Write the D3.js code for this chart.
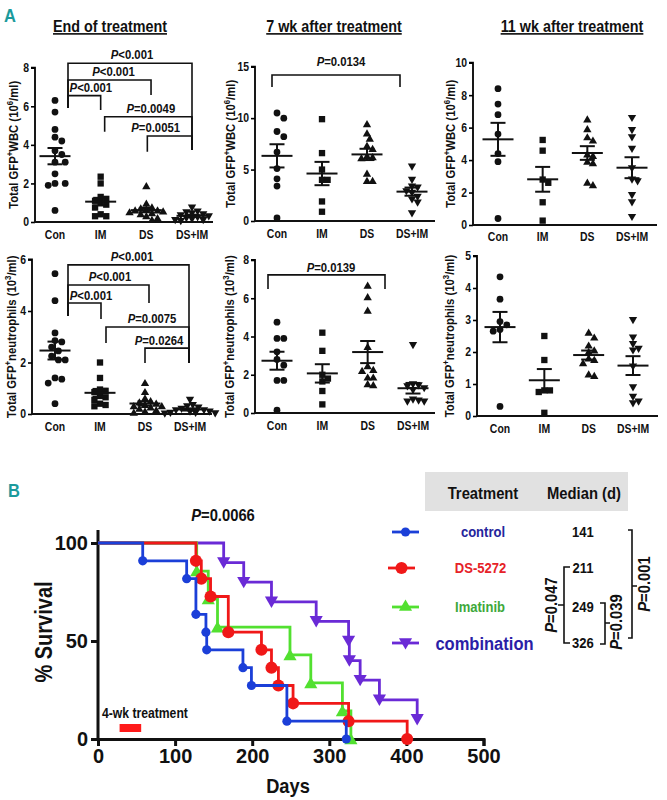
<!DOCTYPE html>
<html><head><meta charset="utf-8">
<script src="https://cdn.jsdelivr.net/npm/d3@7"></script>
<style>
body{margin:0;background:#fff}
text{font-family:'Liberation Sans',Arial,sans-serif;font-weight:bold;fill:#111}
</style></head><body>
<svg id="chart" width="667" height="800"></svg>
<script>
// ---------------- DATA ----------------
const categories = ["Con", "IM", "DS", "DS+IM"];
const titles = ["End of treatment", "7 wk after treatment", "11 wk after treatment"];

// Total GFP+ WBC (10^6/ml); each inner array = Con, IM, DS, DS+IM
const wbcEnd = [
  [6.3, 5.7, 4.8, 4.4, 4.2, 3.7, 3.5, 3.1, 3.1, 2.5, 2.0, 2.0, 1.9, 0.6],
  [2.35, 2.0, 1.3, 1.2, 1.1, 1.0, 0.9, 0.75, 0.4, 0.3, 0.3],
  [1.85, 0.95, 0.75, 0.7, 0.65, 0.6, 0.6, 0.55, 0.5, 0.45, 0.4, 0.3, 0.2, 0.1],
  [0.75, 0.55, 0.5, 0.45, 0.4, 0.35, 0.3, 0.25, 0.2, 0.15, 0.1, 0.1, 0.05]
];
const wbc7wk = [
  [10.5, 10.0, 8.7, 8.2, 6.7, 5.1, 4.1, 3.4, 0.3],
  [9.9, 6.6, 5.0, 4.0, 4.0, 1.9, 0.9],
  [9.4, 8.5, 8.0, 7.3, 7.0, 6.3, 6.2, 6.1, 4.6, 3.9, 3.9],
  [5.3, 4.0, 3.35, 3.25, 2.9, 2.75, 2.35, 2.1, 1.8, 0.75]
];
const wbc11wk = [
  [8.4, 7.45, 6.8, 5.6, 4.4, 3.9, 0.4],
  [5.24, 4.58, 2.8, 2.6, 1.4, 0.27],
  [6.5, 5.9, 5.4, 5.2, 4.35, 4.25, 3.9, 3.8, 2.6, 2.45],
  [6.6, 5.85, 5.4, 4.7, 3.5, 2.8, 2.7, 1.85, 1.4, 0.5]
];
// Total GFP+ neutrophils (10^3/ml)
const neuEnd = [
  [5.45, 4.4, 3.15, 2.85, 2.8, 2.6, 2.45, 2.25, 2.1, 2.1, 1.4, 1.35, 1.2, 0.4],
  [2.0, 1.4, 0.95, 0.9, 0.85, 0.7, 0.65, 0.55, 0.4, 0.35, 0.3],
  [1.2, 0.85, 0.6, 0.5, 0.45, 0.4, 0.35, 0.3, 0.3, 0.25, 0.2, 0.15, 0.1, 0.05],
  [0.55, 0.35, 0.3, 0.25, 0.2, 0.15, 0.15, 0.1, 0.1, 0.05, 0.05, 0.03, 0.02]
];
const neu7wk = [
  [4.75, 3.9, 3.9, 3.2, 2.8, 2.5, 1.7, 1.7, 0.15],
  [4.2, 3.25, 2.0, 1.8, 1.65, 1.15, 0.45],
  [6.65, 6.05, 5.35, 3.45, 2.45, 2.25, 2.2, 1.85, 1.85, 1.5, 1.45],
  [3.55, 1.5, 1.45, 1.4, 1.3, 1.2, 0.7, 0.65, 0.6, 0.6]
];
const neu11wk = [
  [4.35, 3.65, 2.95, 2.85, 2.7, 2.65, 0.3],
  [2.5, 1.75, 0.8, 0.8, 0.75, 0.1],
  [2.6, 2.45, 2.2, 2.05, 2.0, 1.8, 1.75, 1.65, 1.3, 1.25],
  [3.0, 2.45, 2.25, 2.1, 2.05, 1.55, 0.9, 0.6, 0.45, 0.4]
];

const yTicksWbcEnd = [0, 2, 4, 6, 8];
const yTicksWbc7 = [0, 5, 10, 15];
const yTicksWbc11 = [0, 2, 4, 6, 8, 10];
const yTicksNeuEnd = [0, 2, 4, 6];
const yTicksNeu7 = [0, 2, 4, 6, 8];
const yTicksNeu11 = [0, 1, 2, 3, 4, 5];

const pWbcEnd = ["<0.001", "<0.001", "<0.001", "=0.0049", "=0.0051"];
const pWbc7 = ["=0.0134"];
const pNeuEnd = ["<0.001", "<0.001", "<0.001", "=0.0075", "=0.0264"];
const pNeu7 = ["=0.0139"];

// Survival (Kaplan-Meier steps): event day and % survival after event
const survNames = ["control", "DS-5272", "Imatinib", "combination"];
const ctrlDays = [58, 115, 127, 140, 141, 188, 199, 245, 322];
const ctrlSurv = [90.9, 81.8, 63.6, 54.5, 45.5, 36.4, 27.3, 9.1, 0];
const dsDays = [127, 134, 146, 169, 212, 225, 234, 253, 325, 401];
const dsSurv = [90.9, 81.8, 72.7, 54.5, 45.5, 36.4, 27.3, 18.2, 9.1, 0];
const imDays = [128, 143, 155, 249, 276, 317, 328];
const imSurv = [85.7, 71.4, 57.1, 42.9, 28.6, 14.3, 0];
const comboDays = [163, 189, 225, 283, 325, 326, 340, 365, 414];
const comboSurv = [90, 80, 70, 60, 50, 40, 30, 20, 10];
const medians = [141, 211, 249, 326];
const survXTicks = [0, 100, 200, 300, 400, 500];
const survYTicks = [0, 50, 100];
const treatWindow = [28, 56];
const pSurv = "=0.0066";
const pMedianPairs = ["=0.047", "=0.039", "=0.001"];

// ---------------- LAYOUT ----------------
const svg = d3.select("#chart");
const symShapes = [d3.symbolCircle, d3.symbolSquare, d3.symbolTriangle, d3.symbolTriangle];
const symSizes = [36, 40, 30, 30];
const symRot = [0, 0, 0, 180];

const panels = [
  {data: wbcEnd, ticks: yTicksWbcEnd, ylab: "wbc", ax: 35, xr: [55, 192], xend: 213, yr: [222, 67.7], labX: 13, catY: 235, title: 0, titleX: 110,
   pv: pWbcEnd, br: [
     {a:0,b:3,h:8.23,da:5.91,db:3.73,dxa:13,dxb:0,tdx:2},
     {a:0,b:2,h:7.36,da:5.91,db:6.58,dxa:13,dxb:4.7,tdx:4},
     {a:0,b:1,h:6.55,da:5.91,db:5.81,dxa:13,dxb:0,tdx:6.5},
     {a:1,b:3,h:5.46,da:4.68,db:3.73,dxa:4,dxb:0,tdx:2.5},
     {a:2,b:3,h:4.46,da:3.64,db:3.73,dxa:1,dxb:0,tdx:-14}]},
  {data: wbc7wk, ticks: yTicksWbc7, ylab: "wbc", ax: 255, xr: [277, 412], xend: 435, yr: [221, 66.7], labX: 230, catY: 234, title: 1, titleX: 334,
   pv: pWbc7, br: [{a:0,b:3,h:14.19,da:13.02,db:13.02,dxa:-5,dxb:-12,tdx:5,tdy:-9}]},
  {data: wbc11wk, ticks: yTicksWbc11, ylab: "wbc", ax: 473, xr: [498, 632], xend: 657, yr: [225, 62.7], labX: 450, catY: 237, title: 2, titleX: 572, pv: [], br: []},
  {data: neuEnd, ticks: yTicksNeuEnd, ylab: "neu", ax: 32, xr: [55, 190], xend: 212, yr: [414, 259.5], labX: 11, catY: 427,
   pv: pNeuEnd, br: [
     {a:0,b:3,h:5.79,da:3.81,db:1.98,dxa:13,dxb:-1,tdx:3.5,tdy:-3.5},
     {a:0,b:2,h:5.01,da:3.81,db:4.31,dxa:13,dxb:4,tdx:1.5,tdy:-3.5},
     {a:0,b:1,h:4.31,da:3.81,db:3.69,dxa:13,dxb:1,tdx:6.5,tdy:-3.5},
     {a:1,b:3,h:3.38,da:2.76,db:1.98,dxa:6,dxb:-1,tdx:4.5,tdy:-3.5},
     {a:2,b:3,h:2.56,da:1.98,db:1.98,dxa:0,dxb:-1,tdx:-8,tdy:-3.5}]},
  {data: neu7wk, ticks: yTicksNeu7, ylab: "neu", ax: 255, xr: [277, 413], xend: 435, yr: [413, 260], labX: 229, catY: 426,
   pv: pNeu7, br: [{a:0,b:3,h:7.22,da:6.48,db:6.48,dxa:-9,dxb:-28,tdx:4.5,tdy:-3.3}]},
  {data: neu11wk, ticks: yTicksNeu11, ylab: "neu", ax: 477, xr: [500, 633], xend: 658, yr: [416, 256], labX: 449, catY: 429, pv: [], br: []}
];

function pText(g, x, y, rest, size, anchor, rot) {
  const t = g.append("text").attr("x", x).attr("y", y).attr("font-size", size).attr("text-anchor", anchor || "middle");
  if (rot) t.attr("transform", `rotate(-90,${x},${y})`);
  t.append("tspan").attr("font-style", "italic").text("P");
  t.append("tspan").text(rest);
  return t;
}

function swarm(vals, y, cx, d) {
  const pts = vals.map(v => ({v, y: y(v)})).sort((a, b) => a.y - b.y);
  const placed = [];
  const cands = [0];
  for (let i = 1; i < 60; i++) { cands.push(i * d * 0.5, -i * d * 0.5); }
  pts.forEach(p => {
    for (const dx of cands) {
      if (placed.every(q => Math.hypot(q.x - (cx + dx), q.y - p.y) >= d)) { p.x = cx + dx; break; }
    }
    placed.push(p);
  });
  return pts;
}

// Panel letters
svg.append("text").attr("x", 4).attr("y", 22).attr("font-size", 19).style("fill", "#1b9a9c").text("A");
svg.append("text").attr("x", 8).attr("y", 497).attr("font-size", 19).style("fill", "#1b9a9c").text("B");

panels.forEach((P, pi) => {
  const g = svg.append("g");
  const y = d3.scaleLinear().domain([0, d3.max(P.ticks)]).range(P.yr);
  const x = d3.scalePoint().domain(categories).range(P.xr);
  const ya = g.append("g").attr("transform", `translate(${P.ax},0)`)
    .call(d3.axisLeft(y).tickValues(P.ticks).tickSize(4).tickPadding(2).tickFormat(d3.format("d")));
  ya.select(".domain").attr("stroke-width", 1.8).attr("d", `M0,${P.yr[0]}V${P.yr[1]}H-4`);
  ya.selectAll(".tick line").attr("stroke-width", 1.6);
  ya.selectAll(".tick text").attr("font-size", 12).style("font-family", null);
  g.append("line").attr("x1", P.ax - 1).attr("x2", P.xend).attr("y1", P.yr[0]).attr("y2", P.yr[0]).attr("stroke", "#111").attr("stroke-width", 1.8);
  categories.forEach(c => {
    g.append("text").attr("x", x(c)).attr("y", P.catY + 4.5).attr("text-anchor", "middle").attr("font-size", 12).text(c);
  });
  // y label
  const lt = g.append("text").attr("font-size", 13).attr("text-anchor", "middle").attr("dy", "0.36em")
    .attr("transform", `translate(${P.labX},${(P.yr[0] + P.yr[1]) / 2}) rotate(-90)`);
  lt.append("tspan").text("Total GFP");
  lt.append("tspan").attr("font-size", 9).attr("dy", -5).text("+");
  if (P.ylab === "wbc") {
    lt.append("tspan").attr("dy", 5).text("WBC (10");
    lt.append("tspan").attr("font-size", 9).attr("dy", -5).text("6");
  } else {
    lt.append("tspan").attr("dy", 5).text("neutrophils (10");
    lt.append("tspan").attr("font-size", 9).attr("dy", -5).text("3");
  }
  lt.append("tspan").attr("dy", 5).text("/ml)");
  if (P.title !== undefined) {
    g.append("text").attr("x", P.titleX).attr("y", 32).attr("text-anchor", "middle").attr("font-size", 16.5)
      .style("text-decoration", "underline").text(titles[P.title]);
  }
  P.data.forEach((vals, gi) => {
    const cx = x(categories[gi]);
    const pts = swarm(vals, y, cx, gi === 0 ? 6.8 : 5.6);
    const sym = d3.symbol().type(symShapes[gi]).size(symSizes[gi]);
    g.selectAll(null).data(pts).enter().append("path")
      .attr("d", sym).attr("fill", "#111")
      .attr("transform", d => `translate(${d.x},${d.y + (gi >= 2 ? (gi === 2 ? 0.6 : -0.6) : 0)}) rotate(${symRot[gi]})`);
    const m = d3.mean(vals);
    const sem = d3.deviation(vals) / Math.sqrt(vals.length);
    const la = s => s.attr("stroke", "#111").attr("stroke-width", 2);
    la(g.append("line").attr("x1", cx - 15.5).attr("x2", cx + 15.5).attr("y1", y(m)).attr("y2", y(m)));
    la(g.append("line").attr("x1", cx).attr("x2", cx).attr("y1", y(m - sem)).attr("y2", y(m + sem)));
    la(g.append("line").attr("x1", cx - 7.5).attr("x2", cx + 7.5).attr("y1", y(m + sem)).attr("y2", y(m + sem)));
    la(g.append("line").attr("x1", cx - 7.5).attr("x2", cx + 7.5).attr("y1", y(m - sem)).attr("y2", y(m - sem)));
  });
  P.br.forEach((b, bi) => {
    const xa = x(categories[b.a]) + b.dxa, xb = x(categories[b.b]) + b.dxb;
    g.append("path").attr("fill", "none").attr("stroke", "#111").attr("stroke-width", 1.6)
      .attr("d", `M${xa},${y(b.da)}V${y(b.h)}H${xb}V${y(b.db)}`);
    pText(g, (xa + xb) / 2 + b.tdx, y(b.h) + (b.tdy !== undefined ? b.tdy : -4), P.pv[bi], 13);
  });
});

// ---------------- SURVIVAL ----------------
const sx = d3.scaleLinear().domain([0, 500]).range([98, 483.5]);
const sy = d3.scaleLinear().domain([0, 100]).range([739, 543]);
const sg = svg.append("g");
const xa = sg.append("g").attr("transform", "translate(0,739)")
  .call(d3.axisBottom(sx).tickValues(survXTicks).tickSize(7).tickPadding(3));
const yaS = sg.append("g").attr("transform", "translate(98,0)")
  .call(d3.axisLeft(sy).tickValues(survYTicks).tickSize(7).tickPadding(3));
[xa, yaS].forEach(a => {
  a.select(".domain").attr("stroke-width", 3).attr("stroke", "#111");
  a.selectAll(".tick line").attr("stroke-width", 3).attr("stroke", "#111");
  a.selectAll(".tick text").attr("font-size", 20).style("font-family", null).classed("noscale", true);
});
yaS.select(".domain").attr("d", "M-7,739.5H0V530");
sg.append("text").attr("x", 288).attr("y", 793).attr("text-anchor", "middle").attr("font-size", 21).text("Days");
sg.append("text").attr("transform", "translate(52,632) rotate(-90)").attr("text-anchor", "middle").attr("font-size", 23).text("% Survival");
pText(sg, 223, 521, pSurv, 17);
sg.append("text").attr("x", 102).attr("y", 718).attr("font-size", 14).text("4-wk treatment");
sg.append("rect").attr("x", sx(treatWindow[0])).attr("width", sx(treatWindow[1]) - sx(treatWindow[0])).attr("y", 724).attr("height", 8).attr("fill", "#ff1a1a");

const survColors = ["#1b3fd8", "#f01818", "#52e030", "#6a2ad6"];
const survText = ["#25259c", "#e62228", "#3ea83a", "#2a1ea6"];
const survShapes = [d3.symbolCircle, d3.symbolCircle, d3.symbolTriangle, d3.symbolTriangle];
const survSizes = [66, 115, 75, 75];
const survRot = [0, 0, 0, 180];
const curves = [[ctrlDays, ctrlSurv], [dsDays, dsSurv], [imDays, imSurv], [comboDays, comboSurv]];
const line = d3.line().x(d => sx(d[0])).y(d => sy(d[1])).curve(d3.curveStepAfter);
[3, 2, 1, 0].forEach(i => {
  const pts = [[0, 100]].concat(curves[i][0].map((d, k) => [d, curves[i][1][k]]));
  sg.append("path").attr("d", line(pts)).attr("fill", "none").attr("stroke", survColors[i]).attr("stroke-width", 2.8);
  const sym = d3.symbol().type(survShapes[i]).size(survSizes[i]);
  sg.selectAll(null).data(pts.slice(1)).enter().append("path").attr("d", sym).attr("fill", survColors[i])
    .attr("transform", d => `translate(${sx(d[0])},${sy(d[1]) + (i === 3 ? -1.5 : i === 2 ? 1.5 : 0)}) rotate(${survRot[i]})`);
});

sg.append("rect").attr("x", 425).attr("y", 472).attr("width", 203).attr("height", 39).attr("fill", "#e1e1e1");
sg.append("text").attr("x", 483).attr("y", 499).attr("text-anchor", "middle").attr("font-size", 17).text("Treatment");
sg.append("text").attr("x", 584).attr("y", 499).attr("text-anchor", "middle").attr("font-size", 17).text("Median (d)");
const legY = [532, 568, 607, 643];
const legLX = [[392, 419], [388, 415], [392, 419], [392, 419]];
const legTX = [483, 480.5, 480, 484.5];
const legFS = [15, 15, 15, 19];
survNames.forEach((n, i) => {
  sg.append("line").attr("x1", legLX[i][0]).attr("x2", legLX[i][1]).attr("y1", legY[i]).attr("y2", legY[i]).attr("stroke", survColors[i]).attr("stroke-width", 2.8);
  sg.append("path").attr("d", d3.symbol().type(survShapes[i]).size(survSizes[i])())
    .attr("fill", survColors[i]).attr("transform", `translate(${(legLX[i][0] + legLX[i][1]) / 2},${legY[i] + (i === 3 ? -1 : 0)}) rotate(${survRot[i]})`);
  sg.append("text").attr("x", legTX[i]).attr("y", legY[i] + legFS[i] * 0.36).attr("text-anchor", "middle").attr("font-size", legFS[i]).style("fill", survText[i]).text(n);
  sg.append("text").attr("x", 583).attr("y", legY[i] + 5.5).attr("text-anchor", "middle").attr("font-size", 15).text(medians[i]);
});
const bk = (d) => sg.append("path").attr("d", d).attr("fill", "none").attr("stroke", "#111").attr("stroke-width", 1.6);
bk("M570,567H564V643H570M564,605H558");
bk("M600,603H605V644H600M605,623H610");
bk("M628,530H632V638H628M632,586H637");
pText(sg, 557, 605, pMedianPairs[0], 17, "middle", true);
pText(sg, 622, 622, pMedianPairs[1], 17, "middle", true);
pText(sg, 650, 584, pMedianPairs[2], 17, "middle", true);

// condensed look: compress all text horizontally about its anchor
svg.selectAll("text").each(function () {
  if (this.classList.contains("noscale")) return;
  const el = d3.select(this);
  const x = +el.attr("x") || 0;
  const tr = el.attr("transform") || "";
  el.attr("transform", `${tr} translate(${x},0) scale(0.87,1) translate(${-x},0)`);
});
</script>
</body></html>
